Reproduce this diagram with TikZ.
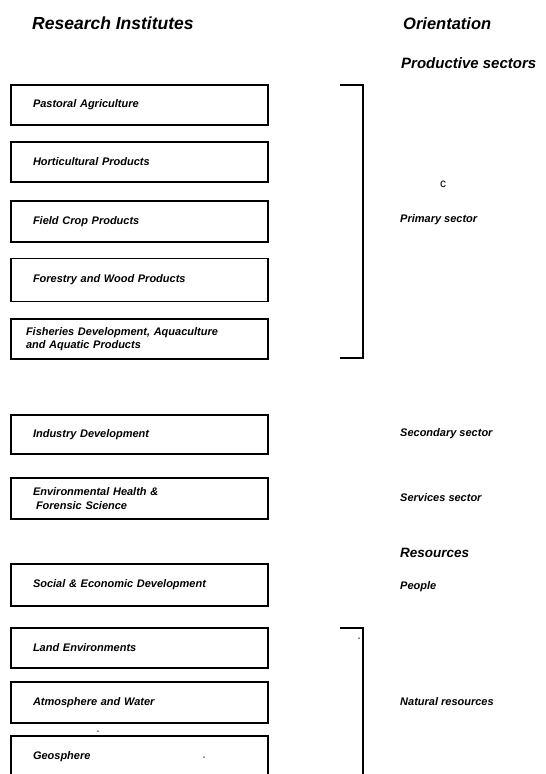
\documentclass[tikz,border=0pt]{standalone}
\usepackage{fontspec}
\setmainfont{Liberation Sans}
\begin{document}
\begin{tikzpicture}[x=1pt,y=-1pt,
  box/.style={draw,line width=1.3pt,rectangle,minimum width=257pt,text width=213pt,
    inner xsep=22pt,inner ysep=0pt,align=left,font=\fontsize{11}{13.5}\selectfont\bfseries\itshape},
  head/.style={anchor=base west,inner sep=0pt,font=\fontsize{17.5}{20}\selectfont\bfseries\itshape},
  sub/.style={anchor=base west,inner sep=0pt,font=\fontsize{13.5}{16}\selectfont\bfseries\itshape},
  lab/.style={anchor=west,inner sep=0pt,font=\fontsize{11}{13}\selectfont\bfseries\itshape},
  brk/.style={line width=1.6pt},
  speck/.style={circle,fill,inner sep=0pt,minimum size=1.5pt}]
\useasboundingbox (0,0) rectangle (546,774);
\clip (0,0) rectangle (546,774);
% headings
\node[head] (hri) at (32,29) {Research Institutes};
\node[head,font=\fontsize{16.5}{20}\selectfont\bfseries\itshape] (hor) at (403,29) {Orientation};
\node[sub,font=\fontsize{15}{18}\selectfont\bfseries\itshape] (hps) at (401,68) {Productive sectors};
% boxes
\node[box,minimum height=40pt] (b1) at (139.5,105) {Pastoral Agriculture};
\node[box,minimum height=40pt] (b2) at (139.5,162) {Horticultural Products};
\node[box,minimum height=41pt] (b3) at (139.5,221.5) {Field Crop Products};
\node[box,minimum height=43pt] (b4) at (139.5,280) {Forestry and Wood Products};
\node[box,minimum height=40pt] (b5) at (139.5,339) {\hspace*{-7pt}Fisheries Development, Aquaculture\\\hspace*{-7pt}and Aquatic Products};
\node[box,minimum height=39pt] (b6) at (139.5,434.5) {Industry Development};
\node[box,minimum height=41pt] (b7) at (139.5,498.5) {Environmental Health \&\\\hspace*{3pt}Forensic Science};
\node[box,minimum height=42pt] (b8) at (139.5,585) {Social \& Economic Development};
\node[box,minimum height=40pt] (b9) at (139.5,648) {Land Environments};
\node[box,minimum height=41pt] (b10) at (139.5,702.5) {Atmosphere and Water};
\node[box,minimum height=80pt,text depth=41pt] (b11) at (139.5,776) {Geosphere};
% brackets
\coordinate (p1a) at (340,85);
\coordinate (p1b) at (363,85);
\coordinate (p1c) at (363,358);
\coordinate (p1d) at (340,358);
\draw[brk] (p1a) -- (p1b) -- (p1c) -- (p1d);
\coordinate (p2a) at (340,628);
\coordinate (p2b) at (363,628);
\coordinate (p2c) at (363,790);
\draw[brk] (p2a) -- (p2b) -- (p2c);
% right labels
\node[lab] (lc) at (440,184) {\fontsize{12}{13}\selectfont\normalfont c};
\node[lab] (lp) at (400,220) {Primary sector};
\node[lab] (ls) at (400,434) {Secondary sector};
\node[lab] (lsv) at (400,498) {Services sector};
\node[sub] (lr) at (400,557) {Resources};
\node[lab] (lpe) at (400,587) {People};
\node[lab] (ln) at (400,702) {Natural resources};
% specks
\node[speck] (s1) at (359,638) {};
\node[speck] (s2) at (98,731) {};
\node[speck] (s3) at (204,757) {};
\end{tikzpicture}
\end{document}
